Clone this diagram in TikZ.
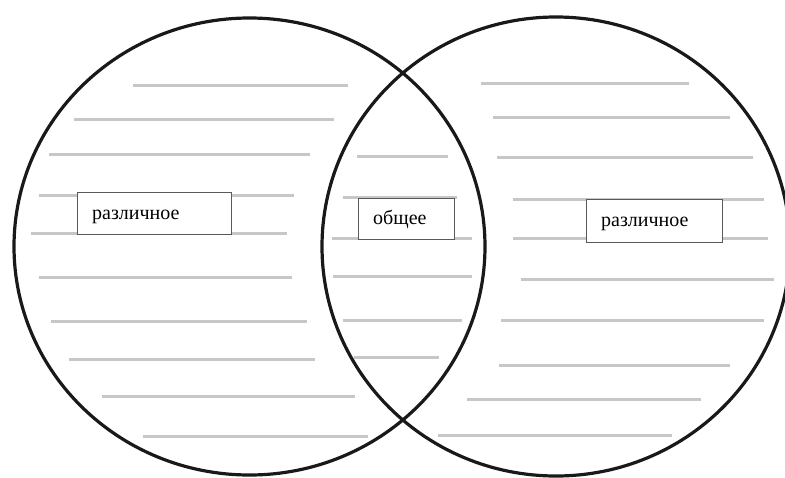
\documentclass[tikz,border=0pt]{standalone}
\usepackage{fontspec}
\setmainfont{Liberation Serif}
\begin{document}
\begin{tikzpicture}[x=1pt,y=-1pt,
  ring/.style={line width=3.2pt,draw=black!90},
  rule/.style={line width=3pt,draw=black!22},
  label/.style={draw=black!65,line width=0.9pt,fill=white,inner sep=0pt,anchor=north west},
  labeltext/.style={anchor=base west,font=\fontsize{20}{24}\selectfont,inner sep=0pt}]
\useasboundingbox (0,0) rectangle (785,477);
\fill[white] (0,0) rectangle (785,477);
% left region rules
\foreach \y/\a/\b in {85.7/133/348, 119/74/334, 154/49/310, 195/39/294, 233/31/287, 277.7/39/292, 321/51/307, 359/69/315, 396/102/355, 436/143/368}
  \draw[rule] (\a,\y) -- (\b,\y);
% middle region rules
\foreach \y/\a/\b in {156/357/448, 197/343/457, 238/332/472, 276/333/472, 320/343/462, 357/354/439}
  \draw[rule] (\a,\y) -- (\b,\y);
% right region rules
\foreach \y/\a/\b in {83/481/689, 117/493/730, 157/497/753, 199/513/764, 238/513/768, 279/521/774, 320/501/764, 365/499/730, 399/467/701, 435/438/672}
  \draw[rule] (\a,\y) -- (\b,\y);
% circles
\draw[ring] (249.5,246.5) ellipse [x radius=235.5, y radius=228.5];
\draw[ring] (556,246.5) ellipse [x radius=234, y radius=229.5];
% labels
\node[label,minimum width=154pt,minimum height=42pt] (L) at (77,192) {};
\node[labeltext] (Lt) at (92,219) {различное};
\node[label,minimum width=96pt,minimum height=41pt] (M) at (358,198) {};
\node[labeltext] (Mt) at (373,224) {общее};
\node[label,minimum width=136pt,minimum height=43pt] (R) at (586,199) {};
\node[labeltext] (Rt) at (601,226) {различное};
\end{tikzpicture}
\end{document}
